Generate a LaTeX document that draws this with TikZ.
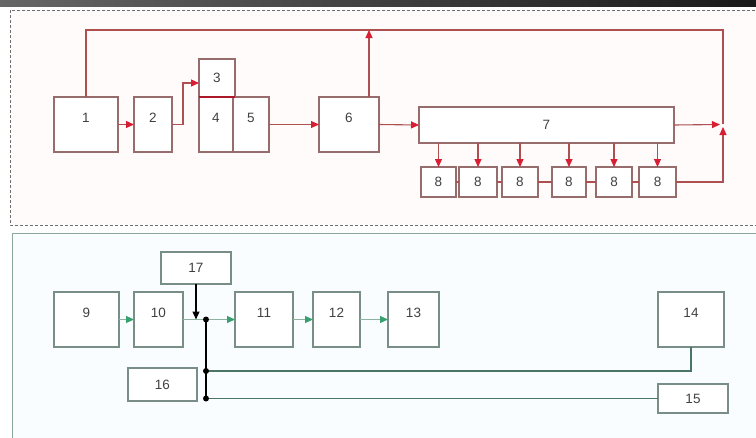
\documentclass[tikz,border=0pt]{standalone}
\usepackage{fontspec}
\setmainfont{Liberation Sans}
\usetikzlibrary{arrows.meta}
\definecolor{tboxc}{RGB}{150,108,108}
\definecolor{tlinec}{RGB}{175,80,80}
\definecolor{ttipc}{RGB}{215,30,50}
\definecolor{bboxc}{RGB}{120,142,135}
\definecolor{blinec}{RGB}{75,118,102}
\definecolor{glinec}{RGB}{140,178,160}
\definecolor{gtipc}{RGB}{55,160,110}
\definecolor{framec}{RGB}{110,110,110}
\definecolor{bframec}{RGB}{140,168,158}
\tikzset{
  num/.style={font=\fontsize{13.5}{15}\selectfont, text=black!75, inner sep=0pt},
  tbox/.style={draw=tboxc, line width=1.2pt, inner sep=0pt, outer sep=0pt, fill=white},
  bbox/.style={draw=bboxc, line width=1.2pt, inner sep=0pt, outer sep=0pt, fill=white},
  up/.style={label={[num,yshift=7pt]center:#1}},
  mid/.style={label={[num]center:#1}},
  tline/.style={draw=tlinec, line width=1.1pt},
  tarrow/.style={tline, -{Triangle[length=8pt,width=7pt,color=ttipc]}},
  bline/.style={draw=blinec, line width=1.2pt},
  garrow/.style={draw=glinec, line width=1.1pt, -{Triangle[length=8pt,width=7pt,color=gtipc]}},
  karrow/.style={draw=black, line width=1.1pt, -{Triangle[length=8pt,width=7pt]}},
  dot/.style={circle, fill=black, inner sep=0pt, minimum size=6pt}
}
\begin{document}
\begin{tikzpicture}[x=1pt,y=-1pt]
\useasboundingbox (0,0) rectangle (756,437);
\fill[white] (0,0) rectangle (756,437);
\shade[left color=black!60, middle color=black!30, right color=black!90] (0,0) rectangle (756,6);
% frames
\fill[red!1.5] (10,10) rectangle (770,225);
\draw[framec, line width=0.9pt, dash pattern=on 3pt off 2pt] (10,10) rectangle (770,225);
\fill[cyan!2] (12,233) rectangle (770,450);
\draw[bframec, line width=1pt] (12,233) rectangle (770,450);

% top part
\node[tbox, minimum width=64pt, minimum height=55pt, up=1] (n1) at (86,124.5) {};
\node[tbox, minimum width=38pt, minimum height=55pt, up=2] (n2) at (153,124.5) {};
\node[tbox, minimum width=36pt, minimum height=38pt, mid=3] (n3) at (217,78) {};
\node[tbox, minimum width=34pt, minimum height=55pt, up=4] (n4) at (216,124.5) {};
\node[tbox, minimum width=36pt, minimum height=55pt, up=5] (n5) at (251,124.5) {};
\node[tbox, minimum width=60pt, minimum height=55pt, up=6] (n6) at (349,124.5) {};
\node[tbox, minimum width=255pt, minimum height=36pt, mid=7] (n7) at (546.5,125) {};
\node[tbox, minimum width=35pt, minimum height=30pt, mid=8] (n8a) at (438.5,182) {};
\node[tbox, minimum width=38pt, minimum height=30pt, mid=8] (n8b) at (478,182) {};
\node[tbox, minimum width=36pt, minimum height=30pt, mid=8] (n8c) at (520,182) {};
\node[tbox, minimum width=34pt, minimum height=30pt, mid=8] (n8d) at (569,182) {};
\node[tbox, minimum width=36pt, minimum height=30pt, mid=8] (n8e) at (614,182) {};
\node[tbox, minimum width=37pt, minimum height=30pt, mid=8] (n8f) at (657.5,182) {};
\draw[draw=ttipc!80!black, line width=1.2pt] (n3.south west) -- (n3.south east);

\coordinate (tr) at (723,30);
\coordinate (jtop) at (723,124);
\coordinate (ja) at (720,124.5);
\coordinate (jb) at (723,127);
\coordinate (c6) at ([xshift=20pt]n6.north);

\draw[tline] (n1.north) |- (tr) -- (jtop);
\draw[tarrow] (c6) -- (c6 |- tr);
\draw[tarrow] (n1.east) -- (n2.west);
\draw[tarrow] (n2.east) -- ++(11,0) |- ([yshift=-5pt]n3.west);
\draw[tarrow] (n5.east) -- (n6.west);
\draw[tarrow] (n6.east) -- (n7.west);
\draw[tarrow] (n7.east) -- (ja);
\foreach \b in {n8a,n8b,n8c,n8d,n8e,n8f}
  \draw[tarrow] (n7.south -| \b.north) -- (\b.north);
\draw[tline] (n8a.east) -- (n8b.west);
\draw[tline] (n8b.east) -- (n8c.west);
\draw[tline] (n8c.east) -- (n8d.west);
\draw[tline] (n8d.east) -- (n8e.west);
\draw[tline] (n8e.east) -- (n8f.west);
\draw[tarrow] (n8f.east) -| (jb);

% bottom part
\node[bbox, minimum width=65pt, minimum height=55pt, up=9] (n9) at (86.5,319.5) {};
\node[bbox, minimum width=49pt, minimum height=55pt, up=10] (n10) at (158.5,319.5) {};
\node[bbox, minimum width=58pt, minimum height=55pt, up=11] (n11) at (264,319.5) {};
\node[bbox, minimum width=47pt, minimum height=55pt, up=12] (n12) at (336.5,319.5) {};
\node[bbox, minimum width=51pt, minimum height=55pt, up=13] (n13) at (413.5,319.5) {};
\node[bbox, minimum width=66pt, minimum height=55pt, up=14] (n14) at (691,319.5) {};
\node[bbox, minimum width=70pt, minimum height=29pt, mid=15] (n15) at (693,398.5) {};
\node[bbox, minimum width=69pt, minimum height=33pt, mid=16] (n16) at (162.5,384.5) {};
\node[bbox, minimum width=70pt, minimum height=32pt, mid=17] (n17) at (196,268) {};

\coordinate (p1) at (206,319.5);
\coordinate (p2) at (206,371);
\coordinate (p3) at (206,398.5);

\draw[garrow] (n9.east) -- (n10.west);
\draw[draw=glinec, line width=1.1pt] (n10.east) -- (p1);
\draw[garrow] (p1) -- (n11.west);
\draw[garrow] (n11.east) -- (n12.west);
\draw[garrow] (n12.east) -- (n13.west);
\draw[karrow] (n17.south) -- (n17.south |- p1);
\draw[draw=black, line width=1.1pt] (p1) -- (p3);
\draw[bline] (n14.south) |- (p2);
\draw[bline] (n15.west) -- (p3);
\node[dot] (d1) at (p1) {};
\node[dot] (d2) at (p2) {};
\node[dot] (d3) at (p3) {};
\end{tikzpicture}
\end{document}
